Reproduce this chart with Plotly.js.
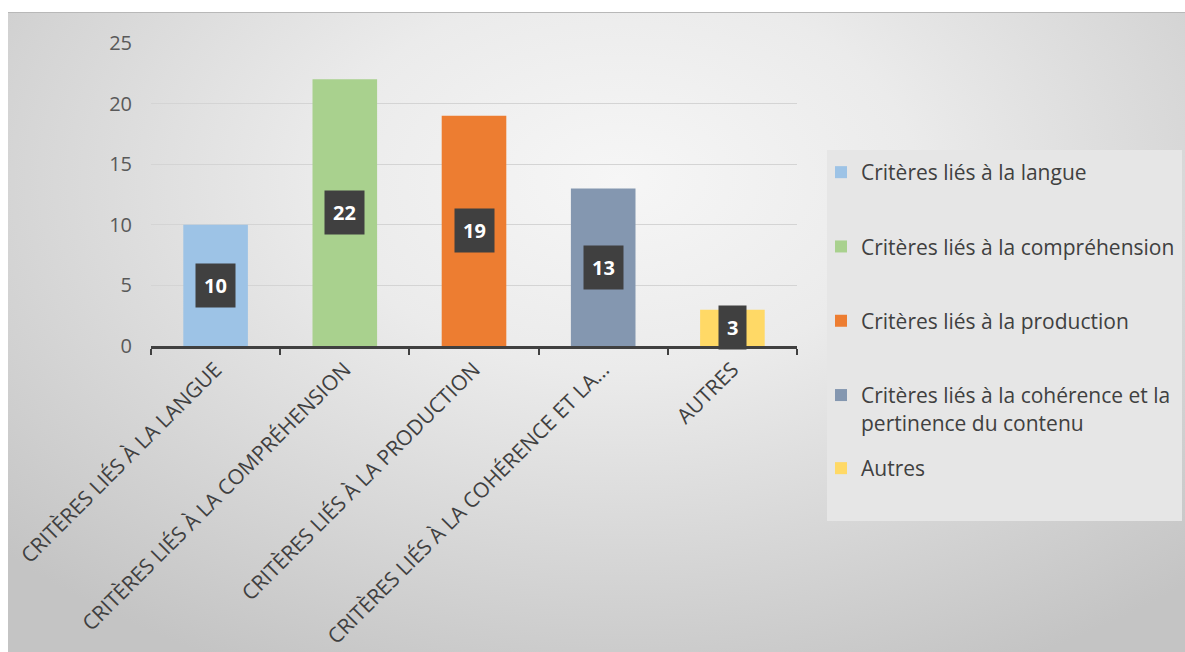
<!DOCTYPE html>
<html>
<head>
<meta charset="utf-8">
<script src="https://cdn.plot.ly/plotly-3.0.1.min.js"></script>
<style>
  html, body { margin: 0; padding: 0; background: #ffffff; }
  #bg { position: absolute; left: 8px; top: 12px; width: 1177px; height: 640px;
        border-top: 1px solid #b8b8b8;
        background: radial-gradient(ellipse 72% 85% at 52% 26%, #f6f6f6 0%, #ebebeb 35%, #d6d6d6 70%, #c4c4c4 100%); }
  #chart { position: absolute; left: 0; top: 0; width: 1185px; height: 652px; }
</style>
</head>
<body>
<div id="bg"></div>
<div id="chart"></div>
<script>
const categories = [
  "Critères liés à la langue",
  "Critères liés à la compréhension",
  "Critères liés à la production",
  "Critères liés à la cohérence et la pertinence du contenu",
  "Autres"
];
const legendNames = [
  "Critères liés à la langue",
  "Critères liés à la compréhension",
  "Critères liés à la production",
  "Critères liés à la cohérence et la<br>pertinence du contenu",
  "Autres"
];
const tickLabels = [
  "CRITÈRES LIÉS À LA LANGUE",
  "CRITÈRES LIÉS À LA COMPRÉHENSION",
  "CRITÈRES LIÉS À LA PRODUCTION",
  "CRITÈRES LIÉS À LA COHÉRENCE ET LA…",
  "AUTRES"
];
const values = [10, 22, 19, 13, 3];
const colors = ["#9DC3E6", "#A9D18E", "#ED7D31", "#8497B0", "#FFD966"];
const yTicks = [0, 5, 10, 15, 20, 25];

const FONT = "'Open Sans', 'Noto Sans', sans-serif";

const traces = categories.map((c, i) => ({
  type: "bar",
  x: [c],
  y: [values[i]],
  name: legendNames[i],
  legendgroup: "g" + i,
  legend: i === 4 ? "legend2" : "legend",
  marker: { color: colors[i], line: { width: 0 } },
  hoverinfo: "x+y"
}));

const annotations = categories.map((c, i) => ({
  x: c,
  y: values[i] / 2,
  xref: "x",
  yref: "y",
  text: "<b>" + values[i] + "</b>",
  showarrow: false,
  bgcolor: "#404040",
  borderpad: 8,
  font: { family: FONT, size: 20, color: "#ffffff" }
}));

const L = 151, R = 797, T = 43, B = 346;
const W = R - L, H = B - T;
const px = v => (v - L) / W;
const py = v => (B - v) / H;

const layout = {
  width: 1185,
  height: 652,
  margin: { l: L, r: 1185 - R, t: T, b: 652 - B, pad: 0, autoexpand: false },
  paper_bgcolor: "rgba(0,0,0,0)",
  plot_bgcolor: "rgba(0,0,0,0)",
  font: { family: FONT, color: "#404040" },
  barmode: "overlay",
  bargap: 0.5,
  showlegend: true,
  xaxis: {
    type: "category",
    categoryorder: "array",
    categoryarray: categories,
    tickvals: categories,
    ticktext: tickLabels,
    tickangle: -45,
    tickfont: { family: FONT, size: 21, color: "#404040" },
    showline: true,
    linecolor: "#404040",
    linewidth: 3,
    ticks: "outside",
    tickson: "boundaries",
    ticklen: 6,
    tickwidth: 2,
    tickcolor: "#404040",
    showgrid: false,
    zeroline: false,
    automargin: false,
    range: [-0.5, 4.5],
    fixedrange: true
  },
  yaxis: {
    range: [0, 25],
    tickvals: yTicks,
    tickfont: { family: FONT, size: 20, color: "#595959" },
    showgrid: true,
    gridcolor: "#d4d4d4",
    gridwidth: 1,
    zeroline: false,
    showline: false,
    ticks: "",
    ticklabelstandoff: 18,
    automargin: false,
    fixedrange: true
  },
  legend: {
    x: px(821), xanchor: "left",
    y: py(152), yanchor: "top",
    bgcolor: "rgba(0,0,0,0)",
    font: { family: FONT, size: 21, color: "#404040" },
    traceorder: "grouped",
    tracegroupgap: 44,
    valign: "top"
  },
  legend2: {
    x: px(821), xanchor: "left",
    y: py(448), yanchor: "top",
    bgcolor: "rgba(0,0,0,0)",
    font: { family: FONT, size: 21, color: "#404040" },
    valign: "top"
  },
  shapes: [{
    type: "rect", xref: "paper", yref: "paper",
    x0: px(827), x1: px(1182), y0: py(521), y1: py(150),
    fillcolor: "#e6e6e6", line: { width: 0 }, layer: "below"
  }],
  annotations: annotations
};

Plotly.newPlot("chart", traces, layout, { displayModeBar: false, staticPlot: true });
</script>
</body>
</html>
